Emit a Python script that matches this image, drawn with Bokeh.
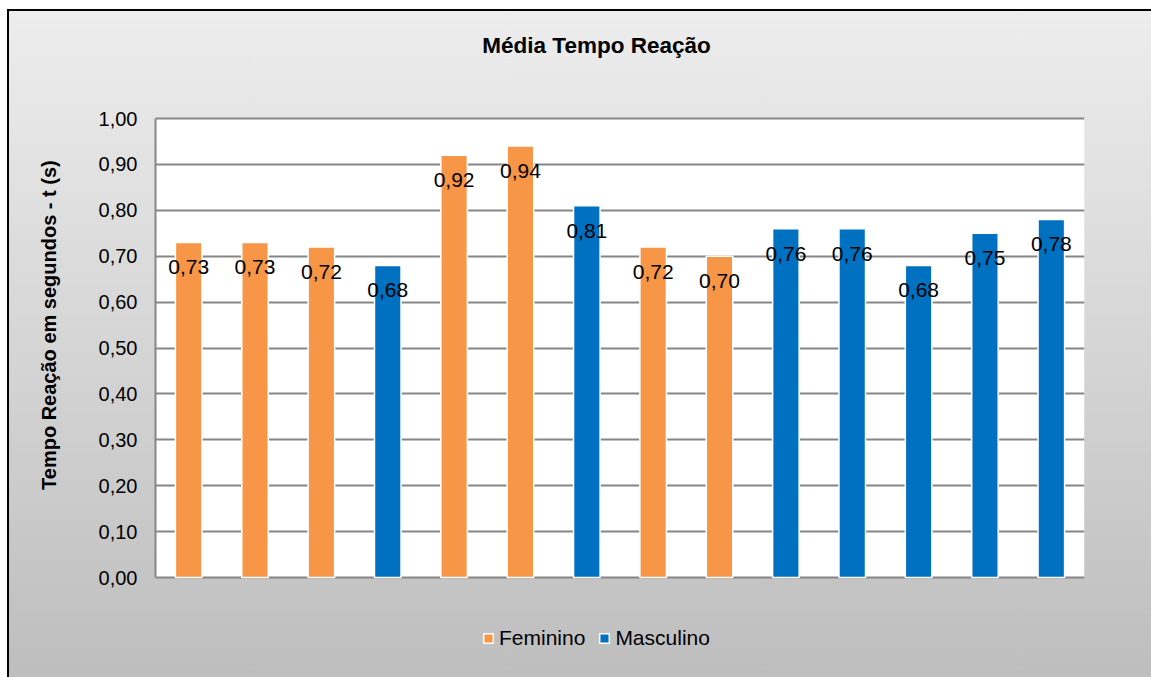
from bokeh.plotting import figure
from bokeh.models import (ColumnDataSource, LabelSet, Label, Legend, LegendItem, FactorRange,
                          FixedTicker, CustomJSTickFormatter, BoxAnnotation, Range1d)
from bokeh.core.properties import value
from bokeh.transform import factor_cmap
from bokeh.embed import file_html
from bokeh.resources import INLINE

categories = [str(i) for i in range(1, 15)]
values = [0.73, 0.73, 0.72, 0.68, 0.92, 0.94, 0.81, 0.72, 0.70, 0.76, 0.76, 0.68, 0.75, 0.78]
genders = ["Feminino", "Feminino", "Feminino", "Masculino", "Feminino", "Feminino", "Masculino",
           "Feminino", "Feminino", "Masculino", "Masculino", "Masculino", "Masculino", "Masculino"]
labels = [f"{v:.2f}".replace(".", ",") for v in values]
y_ticks = [0.0, 0.1, 0.2, 0.3, 0.4, 0.5, 0.6, 0.7, 0.8, 0.9, 1.0]
series = ["Feminino", "Masculino"]
palette = ["#F79646", "#0070C0"]
title_text = "Média Tempo Reação"
y_title = "Tempo Reação em segundos - t (s)"

src = ColumnDataSource(dict(cat=categories, val=values, gender=genders, lab=labels))

FONT = "Liberation Sans"
W, H = 1151, 677
LEFT, RIGHT, TOP, BOTTOM = 155, 67, 118, 100
PLOT_H = H - TOP - BOTTOM  # pixel height of the 0..1 value band
y_lo = y_ticks[0] - (y_ticks[-1] - y_ticks[0]) * BOTTOM / PLOT_H
y_hi = y_ticks[-1] + (y_ticks[-1] - y_ticks[0]) * TOP / PLOT_H

p = figure(width=W, height=H, x_range=FactorRange(*categories), y_range=Range1d(y_lo, y_hi),
           output_backend="svg", toolbar_location=None,
           min_border_left=LEFT, min_border_right=RIGHT, min_border_top=0, min_border_bottom=0)

p.styles = {"background": ("linear-gradient(to bottom, #ededed, #bdbdbd) 9px 11px / 100% 100% no-repeat, "
                           "linear-gradient(#000,#000) 7px 9px / 100% 100% no-repeat, "
                           "#ffffff")}
p.border_fill_alpha = 0
p.background_fill_alpha = 0
p.outline_line_color = None

# white plotting area for the value band 0..1
p.add_layout(BoxAnnotation(bottom=y_ticks[0], top=y_ticks[-1], fill_color="#ffffff", fill_alpha=1,
                           line_color=None, level="image"))

r = p.vbar(x="cat", top="val", width=0.4, source=src,
           fill_color=factor_cmap("gender", palette=palette, factors=series),
           line_color="#ffffff", line_width=1.5)

p.add_layout(LabelSet(x="cat", y="val", text="lab", source=src, y_offset=-25,
                      text_align="center", text_baseline="middle",
                      text_font_size="21px", text_font=value(FONT), text_color="#000000"))

# title (screen units relative to frame, y from bottom)
p.add_layout(Label(x=441, y=H - 45, x_units="screen", y_units="screen", text=title_text,
                   text_align="center", text_baseline="middle", text_font=FONT,
                   text_font_size="22.5px", text_font_style="bold", text_color="#000000"))

# y axis
p.yaxis.ticker = FixedTicker(ticks=y_ticks)
p.yaxis.bounds = (y_ticks[0], y_ticks[-1])
p.yaxis.formatter = CustomJSTickFormatter(code="return tick.toFixed(2).replace('.', ',');")
p.yaxis.major_label_text_font = FONT
p.yaxis.major_label_text_font_size = "20px"
p.yaxis.major_label_text_color = "#000000"
p.yaxis.major_label_standoff = 18
p.yaxis.major_tick_out = 0
p.yaxis.major_tick_in = 0
p.yaxis.minor_tick_line_color = None
p.yaxis.axis_line_color = "#868686"
p.yaxis.axis_line_width = 2
p.yaxis.axis_label = "\u00a0" * 5 + y_title
p.yaxis.axis_label_text_font = FONT
p.yaxis.axis_label_text_font_size = "20px"
p.yaxis.axis_label_text_font_style = "bold"
p.yaxis.axis_label_text_color = "#000000"
p.yaxis.axis_label_standoff = 36

p.xaxis.visible = False

p.xgrid.grid_line_color = None
p.ygrid.grid_line_color = "#868686"
p.ygrid.grid_line_width = 2

legend = Legend(items=[LegendItem(label=s, renderers=[r], index=genders.index(s)) for s in series],
                orientation="horizontal", location=(327, 27),
                label_text_font=FONT, label_text_font_size="21px", label_text_color="#000000",
                glyph_width=12, glyph_height=12, label_standoff=5, spacing=13,
                background_fill_alpha=0, border_line_color=None, margin=0, padding=0)
p.add_layout(legend)

open("out.html", "w").write(file_html(p, INLINE))
